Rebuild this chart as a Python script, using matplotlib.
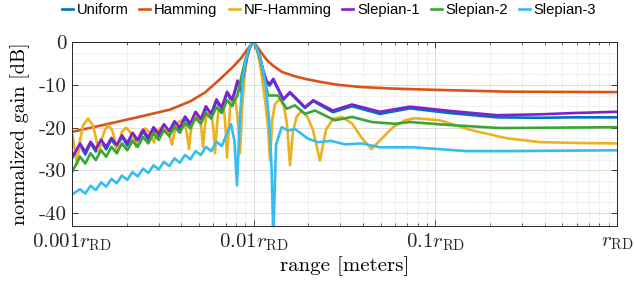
import numpy as np
import matplotlib.pyplot as plt
from matplotlib.ticker import FixedLocator, LogLocator, MultipleLocator, NullFormatter

plt.rcParams['mathtext.fontset'] = 'cm'
plt.rcParams['axes.unicode_minus'] = False

# range values are given as log10(r / r_RD), gains in dB
uniform_logr = [-3.000, -2.956, -2.927, -2.898, -2.869, -2.840, -2.812, -2.783, -2.754, -2.725,
                -2.696, -2.667, -2.638, -2.609, -2.580, -2.551, -2.523, -2.494, -2.465, -2.436,
                -2.407, -2.378, -2.349, -2.320, -2.291, -2.263, -2.234, -2.205, -2.176, -2.147,
                -2.118, -2.089, -2.070, -2.053, -2.037, -2.020, -2.000, -1.987, -1.969, -1.949,
                -1.930, -1.913, -1.892, -1.837, -1.800, -1.718, -1.672, -1.564, -1.459, -1.305,
                -1.140, -0.920, -0.661, -0.424, -0.243, 0.000]
uniform_db = [-26.8, -24.0, -26.3, -23.6, -25.6, -23.1, -25.1, -22.7, -24.7, -22.1,
              -24.2, -21.5, -23.5, -20.8, -22.9, -20.2, -22.1, -19.5, -21.4, -18.8,
              -20.6, -17.7, -19.6, -16.6, -18.6, -15.3, -17.4, -13.7, -16.0, -11.9,
              -14.1, -9.3, -11.6, -7.0, -3.5, -1.0, 0.0, -1.0, -3.0, -6.5,
              -9.2, -10.2, -8.9, -13.5, -11.9, -15.4, -13.8, -16.4, -15.0, -16.8,
              -15.5, -16.6, -17.6, -17.7, -17.6, -17.6]

hamming_logr = [-3.000, -2.829, -2.642, -2.461, -2.351, -2.268, -2.191, -2.114, -2.070, -2.037,
                -2.000, -1.977, -1.949, -1.921, -1.894, -1.844, -1.773, -1.718, -1.635, -1.536,
                -1.415, -1.222, -0.975, -0.606, 0.000]
hamming_db = [-21.0, -19.4, -17.6, -15.8, -13.9, -11.8, -8.9, -5.8, -3.8, -1.8,
              0.0, -1.3, -3.0, -4.5, -5.5, -7.0, -8.0, -8.6, -9.3, -10.0,
              -10.5, -10.9, -11.2, -11.6, -11.7]

nfham_logr = [-3.000, -2.989, -2.972, -2.956, -2.939, -2.912, -2.884, -2.868, -2.851, -2.835,
              -2.818, -2.802, -2.780, -2.766, -2.752, -2.739, -2.725, -2.703, -2.681, -2.664,
              -2.648, -2.634, -2.620, -2.598, -2.576, -2.562, -2.549, -2.535, -2.521, -2.499,
              -2.477, -2.463, -2.450, -2.436, -2.422, -2.400, -2.378, -2.367, -2.356, -2.345,
              -2.331, -2.312, -2.296, -2.287, -2.279, -2.268, -2.260, -2.246, -2.230, -2.221,
              -2.213, -2.202, -2.194, -2.180, -2.163, -2.155, -2.147, -2.136, -2.128, -2.114,
              -2.097, -2.086, -2.075, -2.064, -2.053, -2.040, -2.023, -2.000, -1.985, -1.968,
              -1.952, -1.935, -1.921, -1.910, -1.897, -1.883, -1.855, -1.834, -1.817, -1.800,
              -1.784, -1.764, -1.736, -1.704, -1.674, -1.635, -1.602, -1.564, -1.516, -1.459,
              -1.404, -1.351, -1.305, -1.233, -1.167, -1.112, -0.975, -0.810, -0.606, -0.424,
              -0.204, 0.000]
nfham_db = [-21.3, -24.0, -28.5, -23.0, -19.5, -17.9, -19.5, -22.5, -26.0, -22.5,
            -20.5, -19.5, -20.5, -22.5, -26.0, -23.0, -21.0, -20.0, -21.0, -22.5,
            -24.5, -22.5, -21.0, -20.2, -21.0, -22.0, -23.5, -21.5, -20.3, -19.8,
            -20.5, -21.8, -24.0, -21.0, -19.0, -18.3, -19.5, -21.5, -25.0, -20.5,
            -17.8, -16.6, -18.0, -20.5, -24.5, -19.5, -17.0, -16.0, -17.5, -20.5,
            -26.0, -19.5, -16.0, -14.5, -16.0, -20.0, -27.0, -19.0, -14.5, -12.5,
            -14.5, -19.0, -26.0, -16.0, -9.0, -4.5, -1.5, 0.0, -1.5, -4.5,
            -9.0, -14.5, -20.0, -27.7, -18.0, -14.5, -13.3, -15.0, -19.0, -28.8,
            -21.0, -17.5, -16.0, -17.5, -20.5, -27.7, -20.5, -18.0, -17.5, -19.0,
            -22.5, -25.0, -23.0, -19.9, -18.3, -17.8, -18.3, -20.5, -22.5, -23.4,
            -23.6, -23.7]

slep1_logr = [-3.000, -2.956, -2.927, -2.898, -2.869, -2.840, -2.812, -2.783, -2.754, -2.725,
              -2.696, -2.667, -2.638, -2.609, -2.580, -2.551, -2.523, -2.494, -2.465, -2.436,
              -2.407, -2.378, -2.349, -2.320, -2.291, -2.263, -2.234, -2.205, -2.176, -2.147,
              -2.118, -2.089, -2.070, -2.053, -2.037, -2.020, -2.000, -1.987, -1.969, -1.949,
              -1.930, -1.913, -1.892, -1.837, -1.800, -1.718, -1.672, -1.564, -1.459, -1.305,
              -1.140, -0.920, -0.661, -0.424, -0.243, 0.000]
slep1_db = [-27.2, -23.7, -25.7, -23.3, -25.0, -22.8, -24.5, -22.4, -24.1, -21.8,
            -23.6, -21.2, -22.9, -20.5, -22.3, -19.9, -21.5, -19.2, -20.8, -18.5,
            -20.0, -17.4, -19.0, -16.3, -18.0, -15.0, -16.8, -13.4, -15.4, -11.6,
            -13.5, -9.0, -11.0, -7.0, -3.5, -1.0, 0.0, -1.0, -3.0, -6.5,
            -9.0, -9.8, -8.6, -13.3, -11.7, -15.2, -13.6, -16.0, -14.6, -16.3,
            -15.1, -16.1, -17.1, -16.9, -16.6, -16.3]

slep2_logr = [-3.000, -2.956, -2.927, -2.898, -2.869, -2.840, -2.812, -2.783, -2.754, -2.725,
              -2.696, -2.667, -2.638, -2.609, -2.580, -2.551, -2.523, -2.494, -2.465, -2.436,
              -2.407, -2.378, -2.349, -2.320, -2.291, -2.263, -2.234, -2.205, -2.176, -2.147,
              -2.118, -2.089, -2.070, -2.048, -2.026, -2.000, -1.982, -1.960, -1.938, -1.921,
              -1.866, -1.818, -1.773, -1.718, -1.663, -1.553, -1.459, -1.349, -1.222, -1.140,
              -0.920, -0.645, 0.000]
slep2_db = [-30.4, -26.8, -28.4, -26.0, -27.6, -25.3, -26.8, -24.5, -26.0, -23.7,
            -25.3, -23.1, -24.5, -22.2, -23.7, -21.3, -22.9, -20.6, -22.0, -19.8,
            -21.2, -18.9, -20.2, -17.8, -19.1, -16.6, -17.9, -15.2, -16.6, -13.6,
            -15.0, -12.4, -8.5, -4.5, -1.5, 0.0, -1.5, -4.5, -9.0, -12.5,
            -12.5, -15.6, -14.8, -16.8, -16.0, -18.3, -17.5, -18.7, -19.1, -18.7,
            -19.4, -20.1, -19.9]

slep3_logr = [-3.000, -2.956, -2.927, -2.898, -2.869, -2.840, -2.812, -2.783, -2.754, -2.725,
              -2.696, -2.667, -2.638, -2.609, -2.580, -2.551, -2.523, -2.494, -2.465, -2.436,
              -2.407, -2.378, -2.349, -2.320, -2.291, -2.263, -2.234, -2.205, -2.176, -2.125,
              -2.106, -2.092, -2.075, -2.059, -2.042, -2.023, -2.000, -1.985, -1.969, -1.947,
              -1.932, -1.914, -1.901, -1.892, -1.877, -1.846, -1.811, -1.773, -1.701, -1.646,
              -1.575, -1.498, -1.404, -1.305, -1.123, -0.826, -0.606, 0.000]
slep3_db = [-35.6, -34.4, -35.4, -33.6, -34.6, -32.8, -33.8, -32.0, -33.0, -31.2,
            -32.2, -30.4, -31.4, -29.6, -30.6, -28.8, -29.8, -28.0, -29.0, -27.2,
            -28.2, -26.4, -27.4, -25.5, -26.4, -24.5, -25.5, -23.3, -24.3, -19.2,
            -23.0, -33.5, -17.0, -8.0, -4.0, -1.2, 0.0, -1.2, -3.0, -6.8,
            -10.8, -18.5, -30.0, -46.0, -24.0, -19.9, -20.7, -20.3, -22.6, -23.4,
            -23.1, -23.9, -23.7, -24.6, -24.6, -25.5, -25.5, -25.3]

labels = ['Uniform', 'Hamming', 'NF-Hamming', 'Slepian-1', 'Slepian-2', 'Slepian-3']
colors = ['#0072BD', '#D95319', '#EDB120', '#8020D0', '#3BA534', '#35BDF0']
series = [(uniform_logr, uniform_db), (hamming_logr, hamming_db), (nfham_logr, nfham_db),
          (slep1_logr, slep1_db), (slep2_logr, slep2_db), (slep3_logr, slep3_db)]

xtick_vals = [0.001, 0.01, 0.1, 1.0]
xtick_labels = [r'$0.001r_{\mathrm{RD}}$', r'$0.01r_{\mathrm{RD}}$',
                r'$0.1r_{\mathrm{RD}}$', r'$r_{\mathrm{RD}}$']
ytick_vals = [0, -10, -20, -30, -40]
ytick_labels = ['0', '-10', '-20', '-30', '-40']

fig = plt.figure(figsize=(6.34, 2.92), dpi=100)
ax = fig.add_axes([0.1136, 0.226, 0.8596, 0.630])

handles = []
for (lr, db), c, lab in zip(series, colors, labels):
    h, = ax.plot(10 ** np.array(lr), db, color=c, lw=1.9, label=lab, solid_joinstyle='round')
    handles.append(h)

ax.set_xscale('log')
ax.set_xlim(0.001, 1.0)
ax.set_ylim(-43, 0)

ax.xaxis.set_major_locator(FixedLocator(xtick_vals))
ax.xaxis.set_minor_locator(LogLocator(base=10, subs=np.arange(2, 10)))
ax.xaxis.set_minor_formatter(NullFormatter())
ax.set_xticklabels(xtick_labels, fontsize=15)
ax.set_yticks(ytick_vals)
ax.set_yticklabels(ytick_labels, fontsize=15, fontfamily='cmr10')
ax.yaxis.set_minor_locator(MultipleLocator(2.5))

ax.tick_params(which='both', direction='in', top=True, right=True, colors='#262626')
ax.tick_params(which='major', length=4, width=0.6, pad=4)
ax.tick_params(axis='x', which='minor', length=2.5, width=0.5)
ax.tick_params(axis='y', which='minor', length=0)
for sp in ax.spines.values():
    sp.set_color('#262626')
    sp.set_linewidth(0.7)

ax.grid(which='major', color='#dcdcdc', lw=0.7)
ax.grid(which='minor', color='#d4d4d4', ls=':', lw=0.6)
ax.set_axisbelow(True)

ax.set_xlabel('range [meters]', fontsize=15, fontfamily='cmr10', labelpad=2)
ax.set_ylabel('normalized gain [dB]', fontsize=14.5, fontfamily='cmr10', labelpad=6)

fig.legend(handles, labels, loc='upper center', bbox_to_anchor=(0.519, 1.035), ncol=6,
           frameon=False, prop={'family': 'Liberation Sans', 'size': 10.6},
           handlelength=0.75, handletextpad=0.25, columnspacing=0.75)

fig.savefig('out.png', dpi=100)
